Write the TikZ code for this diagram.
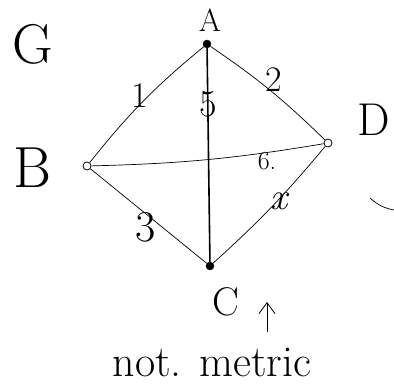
\documentclass[tikz,border=0pt]{standalone}
\usetikzlibrary{arrows.meta}
\begin{document}
\begin{tikzpicture}[x=1pt,y=-1pt,
  vtx/.style={circle,draw,inner sep=0pt,minimum size=8pt,line width=0.8pt},
  vtxf/.style={circle,draw,fill,inner sep=0pt,minimum size=8pt},
  edge/.style={line width=0.7pt},
  fs/.style={font=\fontsize{#1}{#1}\selectfont,inner sep=0pt}]
\useasboundingbox (0,0) rectangle (394,391);
\node[vtxf] (A) at (207,44) {};
\node[vtx] (B) at (87,166) {};
\node[vtx] (D) at (328,143) {};
\node[vtxf] (C) at (210,266) {};
\node[fs=56] (G) at (33,44) {G};
\node[fs=32] (la) at (210,20) {A};
\node[fs=58] (lb) at (32,168) {B};
\node[fs=46] (ld) at (374,120) {D};
\node[fs=40] (lc) at (226,302) {C};
\draw[edge] (A) to[bend right=6] (B);
\draw[edge] (A) to[bend left=5] (D);
\draw[line width=1.6pt] (A) -- (C);
\draw[edge] (B) to[bend right=4] (D);
\draw[edge] (B) -- (C);
\draw[edge] (C) to[bend right=4] (D);
\node[fs=36] (w1) at (140,96) {1};
\node[fs=36] (w2) at (274,80) {2};
\node[fs=38] (w5) at (208,104) {5};
\node[fs=26] (w6) at (267,161) {6.};
\node[fs=44] (w3) at (146,227) {3};
\node[fs=38] (wx) at (279,201) {\itshape x};
\coordinate (s1) at (370,198);
\coordinate (s2) at (394,210);
\draw[edge] (s1) to[bend right=15] (s2);
\coordinate (ab) at (267,332);
\coordinate (at) at (267,302);
\draw[edge,-{Straight Barb[length=11pt,width=16pt,line width=0.8pt]}] (ab) -- (at);
\node[fs=44] (nm) at (212,362) {not. metric};
\end{tikzpicture}
\end{document}
